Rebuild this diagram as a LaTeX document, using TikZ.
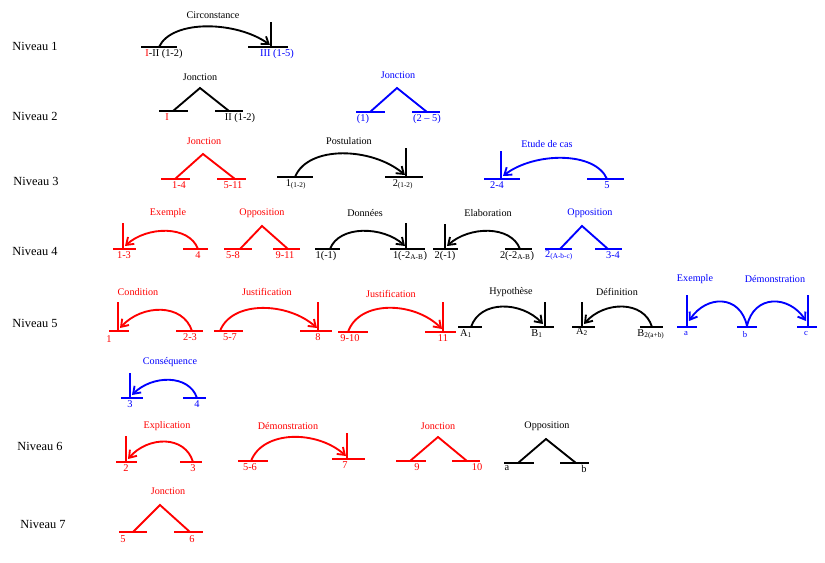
\documentclass[tikz,border=0pt]{standalone}
\usepackage{fontspec}
\setmainfont{Liberation Serif}
\usetikzlibrary{arrows.meta}
\definecolor{rd}{RGB}{255,0,0}
\definecolor{bl}{RGB}{0,0,255}
\begin{document}
\begin{tikzpicture}[x=0.75pt,y=-0.75pt,
 bline/.style={line width=1.5pt},
 legline/.style={line width=1.4pt,line join=miter},
 aline/.style={line width=1.4pt,-{Straight Barb[length=5pt,width=7pt]}},
 toplab/.style={font=\fontsize{7.6}{9}\selectfont,inner sep=0pt},
 endlab/.style={font=\fontsize{7.8}{9}\selectfont,inner sep=0pt,anchor=north},
 lvllab/.style={font=\fontsize{9.3}{11}\selectfont,inner sep=0pt}]
\fill[white] (0,0) rectangle (825,562);
\useasboundingbox (0,0) rectangle (825,562);

% level labels
\node[lvllab] (n1) at (35,46) {Niveau 1};
\node[lvllab] (n2) at (35,116) {Niveau 2};
\node[lvllab] (n3) at (36,181) {Niveau 3};
\node[lvllab] (n4) at (35,251) {Niveau 4};
\node[lvllab] (n5) at (35,323) {Niveau 5};
\node[lvllab] (n6) at (40,446) {Niveau 6};
\node[lvllab] (n7) at (43,524) {Niveau 7};

% ===== Level 1: Circonstance
\draw[bline] (141,47) -- (177,47);
\draw[bline] (248,47) -- (288,47);
\draw[bline] (271,22) -- (271,47);
\coordinate (a1s) at (159,47); \coordinate (a1e) at (270,45);
\draw[aline] (a1s) .. controls +(13,-28) and +(-33,-24) .. (a1e);
\node[toplab] (t1) at (213,15) {Circonstance};
\node[endlab] (e1a) at (164,49) {{\color{rd}I}-II (1-2)};
\node[endlab,text=bl] (e1b) at (277,49) {III (1-5)};

% ===== Level 2
\draw[bline] (159,111) -- (188,111);
\draw[bline] (215,111) -- (243,111);
\coordinate (j1l) at (173,111); \coordinate (j1a) at (200,88); \coordinate (j1r) at (229,111);
\draw[legline] (j1l) -- (j1a) -- (j1r);
\node[toplab] (t2) at (200,77) {Jonction};
\node[endlab,text=rd] (e2a) at (167,113) {I};
\node[endlab] (e2b) at (240,113) {II (1-2)};

\begin{scope}[bl]
\draw[bline] (356,112) -- (385,112);
\draw[bline] (412,112) -- (440,112);
\coordinate (j2l) at (370,112); \coordinate (j2a) at (397,88); \coordinate (j2r) at (427,112);
\draw[legline] (j2l) -- (j2a) -- (j2r);
\node[toplab] (t3) at (398,75) {Jonction};
\node[endlab] (e2c) at (363,114) {(1)};
\node[endlab] (e2d) at (427,114) {(2 -- 5)};
\end{scope}

% ===== Level 3
\begin{scope}[rd]
\draw[bline] (161,179) -- (190,179);
\draw[bline] (217,179) -- (246,179);
\coordinate (j3l) at (175,179); \coordinate (j3a) at (203,154); \coordinate (j3r) at (235,179);
\draw[legline] (j3l) -- (j3a) -- (j3r);
\node[toplab] (t4) at (204,141) {Jonction};
\node[endlab] (e3a) at (179,181) {1-4};
\node[endlab] (e3b) at (233,181) {5-11};
\end{scope}

\draw[bline] (277,177) -- (313,177);
\draw[bline] (385,177) -- (423,177);
\draw[bline] (406,148) -- (406,177);
\coordinate (a2s) at (295,177); \coordinate (a2e) at (405,175);
\draw[aline] (a2s) .. controls +(13,-32) and +(-33,-28) .. (a2e);
\node[toplab] (t5) at (349,141) {Postulation};
\node[endlab] (e3c) at (296,179) {1\textsubscript{(1-2)}};
\node[endlab] (e3d) at (403,179) {2\textsubscript{(1-2)}};

\begin{scope}[bl]
\draw[bline] (484,179) -- (520,179);
\draw[bline] (587,179) -- (624,179);
\draw[bline] (501,151) -- (501,179);
\coordinate (a3s) at (607,179); \coordinate (a3e) at (503,176);
\draw[aline] (a3s) .. controls +(-12,-28) and +(31,-24) .. (a3e);
\node[toplab] (t6) at (547,144) {Etude de cas};
\node[endlab] (e3e) at (497,181) {2-4};
\node[endlab] (e3f) at (607,181) {5};
\end{scope}

% ===== Level 4
\begin{scope}[rd]
\draw[bline] (113,249) -- (136,249);
\draw[bline] (183,249) -- (208,249);
\draw[bline] (123,223) -- (123,249);
\coordinate (a4s) at (198,249); \coordinate (a4e) at (125,246);
\draw[aline] (a4s) .. controls +(-9,-24) and +(22,-20) .. (a4e);
\node[toplab] (t7) at (168,213) {Exemple};
\node[endlab] (e4a) at (124,251) {1-3};
\node[endlab] (e4b) at (198,251) {4};

\draw[bline] (224,249) -- (252,249);
\draw[bline] (273,249) -- (300,249);
\coordinate (j4l) at (240,249); \coordinate (j4a) at (262,226); \coordinate (j4r) at (288,249);
\draw[legline] (j4l) -- (j4a) -- (j4r);
\node[toplab] (t8) at (262,213) {Opposition};
\node[endlab] (e4c) at (233,251) {5-8};
\node[endlab] (e4d) at (285,251) {9-11};
\end{scope}

\draw[bline] (315,249) -- (340,249);
\draw[bline] (390,249) -- (425,249);
\draw[bline] (406,223) -- (406,249);
\coordinate (a5s) at (330,249); \coordinate (a5e) at (405,246);
\draw[aline] (a5s) .. controls +(9,-24) and +(-22,-20) .. (a5e);
\node[toplab] (t9) at (365,213) {Données};
\node[endlab] (e4e) at (326,251) {1(-1)};
\node[endlab] (e4f) at (410,251) {1(-2\textsubscript{A-B})};

\draw[bline] (433,249) -- (458,249);
\draw[bline] (505,249) -- (532,249);
\draw[bline] (445,224) -- (445,249);
\coordinate (a6s) at (520,249); \coordinate (a6e) at (447,246);
\draw[aline] (a6s) .. controls +(-9,-24) and +(22,-20) .. (a6e);
\node[toplab] (t10) at (488,213) {Elaboration};
\node[endlab] (e4g) at (445,251) {2(-1)};
\node[endlab] (e4h) at (517,251) {2(-2\textsubscript{A-B})};

\begin{scope}[bl]
\draw[bline] (545,249) -- (572,249);
\draw[bline] (595,249) -- (622,249);
\coordinate (j5l) at (560,249); \coordinate (j5a) at (582,226); \coordinate (j5r) at (608,249);
\draw[legline] (j5l) -- (j5a) -- (j5r);
\node[toplab] (t11) at (590,213) {Opposition};
\node[endlab] (e4i) at (559,250) {2\textsubscript{(A-b-c)}};
\node[endlab] (e4j) at (613,251) {3-4};
\end{scope}

% ===== Level 5
\begin{scope}[rd]
\draw[bline] (109,331) -- (129,331);
\draw[bline] (176,331) -- (203,331);
\draw[bline] (118,302) -- (118,331);
\coordinate (a7s) at (192,331); \coordinate (a7e) at (120,328);
\draw[aline] (a7s) .. controls +(-9,-28) and +(22,-24) .. (a7e);
\node[toplab] (t12) at (138,292) {Condition};
\node[endlab] (e5a) at (109,335) {1};
\node[endlab] (e5b) at (190,333) {2-3};

\draw[bline] (214,331) -- (243,331);
\draw[bline] (300,331) -- (332,331);
\draw[bline] (318,302) -- (318,331);
\coordinate (a8s) at (220,331); \coordinate (a8e) at (317,328);
\draw[aline] (a8s) .. controls +(12,-31) and +(-29,-26) .. (a8e);
\node[toplab] (t13) at (267,292) {Justification};
\node[endlab] (e5c) at (230,333) {5-7};
\node[endlab] (e5d) at (318,333) {8};

\draw[bline] (338,332) -- (368,332);
\draw[bline] (425,332) -- (456,332);
\draw[bline] (443,302) -- (443,332);
\coordinate (a9s) at (348,332); \coordinate (a9e) at (442,329);
\draw[aline] (a9s) .. controls +(11,-32) and +(-28,-28) .. (a9e);
\node[toplab] (t14) at (391,294) {Justification};
\node[endlab] (e5e) at (350,334) {9-10};
\node[endlab] (e5f) at (443,334) {11};
\end{scope}

\draw[bline] (458,327) -- (482,327);
\draw[bline] (530,327) -- (554,327);
\draw[bline] (545,302) -- (545,327);
\coordinate (a10s) at (471,327); \coordinate (a10e) at (543,324);
\draw[aline] (a10s) .. controls +(9,-27) and +(-22,-23) .. (a10e);
\node[toplab] (t15) at (511,292) {Hypothèse};
\node[endlab] (e5g) at (466,329) {A\textsubscript{1}};
\node[endlab] (e5h) at (537,329) {B\textsubscript{1}};

\draw[bline] (572,327) -- (595,327);
\draw[bline] (640,327) -- (663,327);
\draw[bline] (582,302) -- (582,327);
\coordinate (a11s) at (652,327); \coordinate (a11e) at (584,324);
\draw[aline] (a11s) .. controls +(-8,-27) and +(20,-23) .. (a11e);
\node[toplab] (t16) at (617,292) {Définition};
\node[endlab] (e5i) at (582,327) {A\textsubscript{2}};
\node[endlab] (e5j) at (651,329) {B\textsubscript{2(a+b)}};

\begin{scope}[bl]
\draw[bline] (677,327) -- (697,327);
\draw[bline] (737,327) -- (757,327);
\draw[bline] (797,327) -- (817,327);
\draw[bline] (687,295) -- (687,327);
\draw[bline] (808,295) -- (808,327);
\coordinate (a12s) at (747,326); \coordinate (a12e) at (689,321);
\coordinate (a13e) at (806,321);
\draw[aline] (a12s) .. controls +(-7,-32) and +(17,-26) .. (a12e);
\draw[aline] (a12s) .. controls +(7,-32) and +(-17,-26) .. (a13e);
\node[toplab] (t17) at (695,279) {Exemple};
\node[toplab] (t18) at (775,279) {Démonstration};
\node[endlab,font=\fontsize{6.5}{8}\selectfont] (e5k) at (686,331) {a};
\node[endlab,font=\fontsize{6.5}{8}\selectfont] (e5l) at (745,331) {b};
\node[endlab,font=\fontsize{6.5}{8}\selectfont] (e5m) at (806,331) {c};

% Conséquence
\draw[bline] (121,398) -- (143,398);
\draw[bline] (183,398) -- (206,398);
\draw[bline] (130,373) -- (130,398);
\coordinate (a14s) at (197,398); \coordinate (a14e) at (132,395);
\draw[aline] (a14s) .. controls +(-8,-24) and +(20,-20) .. (a14e);
\node[toplab] (t19) at (170,362) {Conséquence};
\node[endlab] (e5n) at (130,400) {3};
\node[endlab] (e5o) at (197,400) {4};
\end{scope}

% ===== Level 6
\begin{scope}[rd]
\draw[bline] (116,462) -- (137,462);
\draw[bline] (180,462) -- (202,462);
\draw[bline] (126,436) -- (126,462);
\coordinate (a15s) at (193,462); \coordinate (a15e) at (128,459);
\draw[aline] (a15s) .. controls +(-8,-27) and +(20,-23) .. (a15e);
\node[toplab] (t20) at (167,426) {Explication};
\node[endlab] (e6a) at (126,464) {2};
\node[endlab] (e6b) at (193,464) {3};

\draw[bline] (238,461) -- (268,461);
\draw[bline] (332,459) -- (365,459);
\draw[bline] (347,433) -- (347,459);
\coordinate (a16s) at (251,461); \coordinate (a16e) at (346,456);
\draw[aline] (a16s) .. controls +(12,-31) and +(-29,-26) .. (a16e);
\node[toplab] (t21) at (288,426) {Démonstration};
\node[endlab] (e6c) at (250,463) {5-6};
\node[endlab] (e6d) at (345,461) {7};

\draw[bline] (396,461) -- (426,461);
\draw[bline] (452,461) -- (480,461);
\coordinate (j6l) at (410,461); \coordinate (j6a) at (438,437); \coordinate (j6r) at (467,461);
\draw[legline] (j6l) -- (j6a) -- (j6r);
\node[toplab] (t22) at (438,426) {Jonction};
\node[endlab] (e6e) at (417,463) {9};
\node[endlab] (e6f) at (477,463) {10};
\end{scope}

\draw[bline] (504,463) -- (534,463);
\draw[bline] (560,463) -- (589,463);
\coordinate (j7l) at (518,463); \coordinate (j7a) at (546,439); \coordinate (j7r) at (576,463);
\draw[legline] (j7l) -- (j7a) -- (j7r);
\node[toplab] (t23) at (547,426) {Opposition};
\node[endlab] (e6g) at (507,465) {a};
\node[endlab] (e6h) at (584,465) {b};

% ===== Level 7
\begin{scope}[rd]
\draw[bline] (119,532) -- (147,532);
\draw[bline] (174,532) -- (203,532);
\coordinate (j8l) at (133,532); \coordinate (j8a) at (160,505); \coordinate (j8r) at (190,532);
\draw[legline] (j8l) -- (j8a) -- (j8r);
\node[toplab] (t24) at (168,491) {Jonction};
\node[endlab] (e7a) at (123,535) {5};
\node[endlab] (e7b) at (192,535) {6};
\end{scope}
\end{tikzpicture}
\end{document}
